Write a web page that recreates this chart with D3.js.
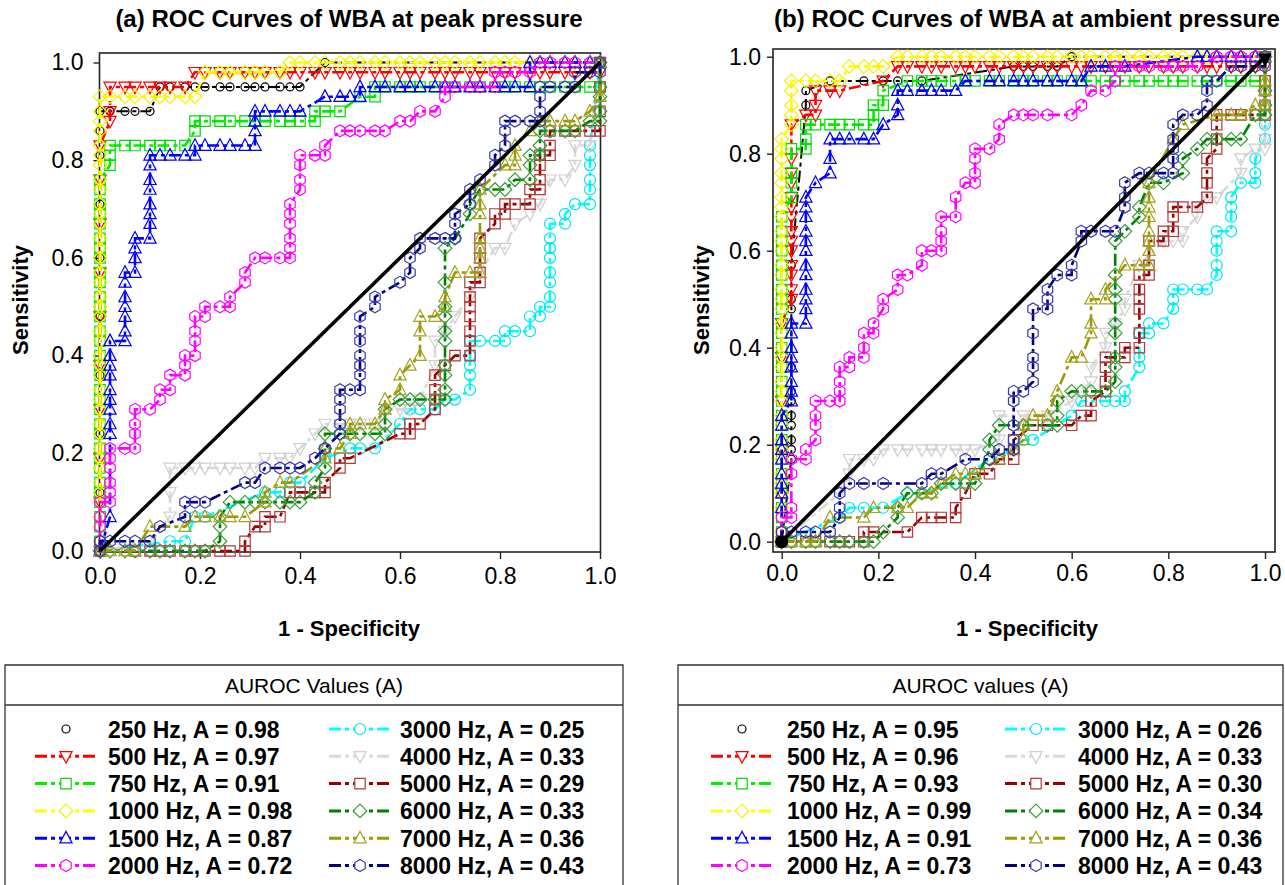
<!DOCTYPE html>
<html>
<head>
<meta charset="utf-8">
<script src="https://cdn.jsdelivr.net/npm/d3@7"></script>
<style>
  body { margin: 0; background: #fff; }
  svg text { font-family: Arial, "Liberation Sans", sans-serif; fill: #000; }
</style>
</head>
<body>
<svg id="chart" width="1285" height="885"></svg>
<script>
// ---------- labels, ticks, AUROC values ----------
const frequencies = ["250 Hz", "500 Hz", "750 Hz", "1000 Hz", "1500 Hz", "2000 Hz",
                     "3000 Hz", "4000 Hz", "5000 Hz", "6000 Hz", "7000 Hz", "8000 Hz"];
const aurocPeak    = [0.98, 0.97, 0.91, 0.98, 0.87, 0.72, 0.25, 0.33, 0.29, 0.33, 0.36, 0.43];
const aurocAmbient = [0.95, 0.96, 0.93, 0.99, 0.91, 0.73, 0.26, 0.33, 0.30, 0.34, 0.36, 0.43];
const xTicks = [0, 0.2, 0.4, 0.6, 0.8, 1.0];
const yTicks = [0, 0.2, 0.4, 0.6, 0.8, 1.0];
const chanceLine = [[0, 0], [1, 1]];

// ---------- ROC points [1 - specificity, sensitivity], peak pressure ----------
const peak250 = [[0,0],[0,.12],[0,.24],[0,.36],[0,.48],[0,.6],[0,.71],[0,.81],[0,.86],[0,.9],[.02,.9],[.05,.9],[.07,.9],[.1,.9],[.12,.95],[.14,.95],[.17,.95],[.19,.95],[.21,.95],[.24,.95],[.26,.95],[.29,.95],[.31,.95],[.33,.95],[.36,.95],[.38,.95],[.4,.95],[.45,1],[1,1]];
const peak500 = [[0,0],[0,.1],[0,.19],[0,.29],[0,.38],[0,.48],[0,.57],[0,.67],[0,.76],[0,.83],[.02,.88],[.02,.9],[.02,.95],[.05,.95],[.07,.95],[.1,.95],[.12,.95],[.14,.95],[.17,.95],[.19,.98],[.21,.98],[.24,.98],[.26,.98],[.29,.98],[.31,.98],[.33,.98],[.36,.98],[.38,.98],[.4,.98],[.43,.98],[.45,.98],[.48,.98],[.5,.98],[.52,.98],[.55,.98],[.57,.98],[.6,.98],[.62,.98],[.64,.98],[.67,.98],[.69,.98],[.71,.98],[.74,.98],[.76,.98],[.79,.98],[.81,.98],[.83,.98],[.86,.98],[.88,.98],[.9,.98],[.93,.98],[.95,.98],[.98,.98],[1,.98],[1,1]];
const peak750 = [[0,0],[0,.02],[0,.05],[0,.07],[0,.1],[0,.12],[0,.14],[0,.17],[0,.19],[0,.21],[0,.24],[0,.26],[0,.29],[0,.31],[0,.33],[0,.36],[0,.38],[0,.4],[0,.43],[0,.45],[0,.48],[0,.5],[0,.52],[0,.55],[0,.57],[0,.6],[0,.62],[0,.64],[0,.67],[0,.69],[0,.71],[0,.74],[0,.76],[.02,.79],[.02,.81],[.02,.83],[.05,.83],[.07,.83],[.1,.83],[.12,.83],[.14,.83],[.17,.83],[.19,.86],[.19,.88],[.21,.88],[.24,.88],[.26,.88],[.29,.88],[.31,.88],[.33,.88],[.36,.88],[.38,.88],[.4,.88],[.43,.88],[.43,.9],[.45,.9],[.48,.9],[.52,.93],[.55,.93],[.55,.95],[.57,.95],[.6,.95],[.62,.95],[.64,.95],[.67,.95],[.69,.95],[.71,.95],[.74,.95],[.76,.95],[.79,.95],[.81,.95],[.83,.95],[.86,.95],[.88,.95],[.9,.95],[.93,.95],[.95,.95],[.98,.95],[1,.95],[1,1]];
const peak1000 = [[0,0],[0,.02],[0,.05],[0,.07],[0,.1],[0,.12],[0,.14],[0,.17],[0,.19],[0,.21],[0,.24],[0,.26],[0,.29],[0,.31],[0,.33],[0,.36],[0,.38],[0,.4],[0,.43],[0,.45],[0,.48],[0,.5],[0,.52],[0,.55],[0,.57],[0,.6],[0,.62],[0,.64],[0,.67],[0,.69],[0,.71],[0,.74],[0,.76],[0,.79],[0,.81],[0,.83],[0,.86],[0,.88],[0,.9],[0,.93],[.02,.93],[.05,.93],[.07,.93],[.1,.93],[.12,.93],[.14,.93],[.17,.93],[.19,.93],[.21,.98],[.24,.98],[.26,.98],[.29,.98],[.31,.98],[.33,.98],[.36,.98],[.38,1],[.4,1],[.43,1],[.45,1],[.48,1],[.5,1],[.52,1],[.55,1],[.57,1],[.6,1],[.62,1],[.64,1],[.67,1],[.69,1],[.71,1],[.74,1],[.76,1],[.79,1],[.81,1],[.83,1],[.86,1],[.88,1],[.9,1],[.93,1],[.95,1],[.98,1],[1,1]];
const peak1500 = [[0,0],[.02,.07],[.02,.24],[.02,.26],[.02,.29],[.02,.31],[.02,.33],[.02,.36],[.02,.38],[.02,.4],[.02,.43],[.05,.43],[.05,.45],[.05,.48],[.05,.5],[.05,.52],[.05,.55],[.05,.57],[.07,.57],[.07,.6],[.07,.62],[.07,.64],[.1,.64],[.1,.67],[.1,.69],[.1,.71],[.1,.74],[.1,.76],[.1,.79],[.1,.81],[.12,.81],[.14,.81],[.17,.81],[.19,.81],[.19,.83],[.21,.83],[.24,.83],[.26,.83],[.29,.83],[.31,.83],[.31,.86],[.31,.88],[.31,.9],[.33,.9],[.36,.9],[.38,.9],[.4,.9],[.45,.93],[.48,.93],[.5,.93],[.52,.93],[.52,.95],[.55,.95],[.57,.95],[.6,.95],[.62,.95],[.64,.95],[.67,.95],[.69,.95],[.71,.95],[.74,.95],[.76,.95],[.79,.95],[.81,.95],[.83,.95],[.86,.95],[.86,1],[.88,1],[.9,1],[.93,1],[.95,1],[.98,1],[1,1]];
const peak2000 = [[0,0],[0,.02],[0,.05],[0,.07],[0,.1],[.02,.1],[.02,.12],[.02,.14],[.02,.17],[.02,.19],[.02,.21],[.05,.21],[.07,.21],[.07,.24],[.07,.26],[.07,.29],[.1,.29],[.12,.31],[.12,.33],[.14,.33],[.14,.36],[.17,.36],[.17,.38],[.17,.4],[.19,.4],[.19,.43],[.19,.45],[.19,.48],[.21,.48],[.21,.5],[.24,.5],[.26,.5],[.26,.52],[.29,.55],[.29,.57],[.31,.6],[.33,.6],[.36,.6],[.38,.6],[.38,.62],[.38,.64],[.38,.67],[.38,.69],[.38,.71],[.4,.74],[.4,.76],[.4,.79],[.4,.81],[.43,.81],[.45,.81],[.45,.83],[.48,.86],[.5,.86],[.52,.86],[.55,.86],[.57,.86],[.6,.88],[.62,.88],[.64,.9],[.67,.9],[.69,.93],[.69,.95],[.71,.95],[.74,.95],[.76,.95],[.79,.95],[.79,.98],[.81,.98],[.83,.98],[.86,.98],[.88,1],[.9,1],[.93,1],[.95,1],[.98,1],[1,1]];
const peak3000 = [[0,0],[.14,.02],[.17,.02],[.19,.07],[.21,.07],[.33,.12],[.36,.12],[.38,.14],[.4,.14],[.45,.19],[.5,.21],[.52,.21],[.55,.21],[.6,.26],[.62,.29],[.64,.29],[.67,.29],[.69,.31],[.71,.31],[.74,.33],[.74,.36],[.74,.38],[.74,.4],[.74,.43],[.76,.43],[.79,.43],[.81,.43],[.81,.45],[.83,.45],[.86,.45],[.86,.48],[.88,.48],[.88,.5],[.9,.5],[.9,.52],[.9,.55],[.9,.57],[.9,.6],[.9,.62],[.9,.64],[.9,.67],[.93,.67],[.93,.69],[.95,.71],[.98,.71],[.98,.74],[.98,.76],[.98,.79],[.98,.81],[.98,.83],[1,1]];
const peak4000 = [[0,0],[.1,.02],[.14,.07],[.14,.12],[.14,.17],[.17,.17],[.19,.17],[.21,.17],[.24,.17],[.26,.17],[.29,.17],[.31,.17],[.33,.19],[.36,.19],[.38,.19],[.4,.21],[.43,.24],[.45,.26],[.48,.26],[.5,.26],[.52,.26],[.55,.26],[.57,.29],[.6,.29],[.62,.29],[.64,.31],[.67,.38],[.67,.43],[.69,.45],[.71,.48],[.74,.52],[.76,.57],[.79,.62],[.81,.62],[.83,.67],[.86,.69],[.88,.71],[.9,.76],[.93,.76],[.95,.79],[.95,.83],[.98,.83],[1,1]];
const peak5000 = [[0,0],[.07,0],[.1,0],[.12,0],[.14,0],[.17,0],[.19,0],[.21,0],[.24,0],[.26,0],[.29,0],[.29,.02],[.31,.05],[.33,.05],[.33,.07],[.36,.07],[.38,.12],[.4,.12],[.43,.12],[.45,.12],[.45,.14],[.48,.17],[.48,.19],[.5,.19],[.6,.24],[.62,.24],[.62,.26],[.64,.26],[.67,.29],[.67,.31],[.67,.33],[.67,.36],[.69,.38],[.71,.4],[.74,.4],[.74,.43],[.74,.45],[.74,.48],[.74,.5],[.74,.52],[.74,.55],[.76,.55],[.76,.57],[.76,.6],[.76,.62],[.76,.64],[.79,.67],[.79,.69],[.81,.69],[.81,.71],[.83,.71],[.86,.71],[.86,.74],[.88,.74],[.88,.76],[.88,.79],[.88,.81],[.9,.81],[.9,.83],[.9,.86],[.93,.86],[.95,.86],[.98,.86],[1,.86],[1,.9],[1,.95],[1,1]];
const peak6000 = [[0,0],[.02,0],[.05,0],[.07,0],[.1,0],[.12,0],[.14,0],[.17,0],[.19,0],[.21,0],[.24,.02],[.24,.05],[.24,.07],[.26,.1],[.29,.1],[.31,.1],[.33,.1],[.36,.1],[.38,.1],[.4,.1],[.43,.12],[.43,.14],[.45,.17],[.45,.21],[.45,.24],[.48,.24],[.5,.24],[.52,.24],[.55,.24],[.57,.24],[.57,.26],[.57,.29],[.6,.31],[.62,.31],[.64,.31],[.67,.31],[.69,.31],[.69,.33],[.69,.36],[.69,.38],[.69,.43],[.69,.45],[.69,.48],[.69,.5],[.69,.55],[.69,.62],[.71,.64],[.74,.69],[.74,.71],[.76,.74],[.79,.74],[.81,.74],[.83,.76],[.86,.76],[.86,.79],[.86,.81],[.88,.81],[.88,.83],[.88,.86],[.9,.86],[.93,.86],[.95,.86],[.98,.88],[1,.88],[1,.9],[1,.93],[1,.95],[1,1]];
const peak7000 = [[0,0],[.02,0],[.05,0],[.07,0],[.1,.05],[.17,.05],[.19,.07],[.21,.07],[.24,.07],[.26,.07],[.29,.07],[.33,.1],[.33,.12],[.36,.14],[.38,.14],[.45,.19],[.45,.21],[.48,.21],[.5,.24],[.5,.26],[.52,.26],[.55,.26],[.57,.29],[.57,.31],[.6,.33],[.6,.36],[.62,.38],[.64,.4],[.64,.45],[.64,.48],[.67,.48],[.69,.5],[.69,.52],[.71,.57],[.74,.57],[.76,.57],[.76,.6],[.76,.62],[.76,.64],[.76,.69],[.76,.71],[.76,.74],[.81,.79],[.83,.79],[.83,.81],[.83,.83],[.86,.86],[.88,.88],[.9,.88],[.93,.88],[.95,.88],[.98,.9],[1,.93],[1,1]];
const peak8000 = [[0,0],[0,.02],[.02,.02],[.05,.02],[.07,.02],[.1,.02],[.12,.05],[.17,.07],[.17,.1],[.19,.1],[.21,.1],[.29,.14],[.31,.14],[.33,.17],[.36,.17],[.38,.17],[.4,.17],[.43,.19],[.45,.21],[.48,.24],[.48,.26],[.48,.29],[.48,.31],[.48,.33],[.5,.33],[.52,.33],[.52,.36],[.52,.38],[.52,.4],[.52,.43],[.52,.45],[.52,.48],[.55,.5],[.55,.52],[.6,.55],[.62,.57],[.62,.6],[.64,.62],[.64,.64],[.67,.64],[.69,.64],[.71,.64],[.71,.67],[.71,.69],[.74,.71],[.74,.74],[.76,.76],[.79,.79],[.79,.81],[.81,.83],[.81,.86],[.81,.88],[.83,.88],[.86,.88],[.88,.88],[.88,.9],[.88,.93],[.88,.95],[.9,.95],[.93,.95],[.95,.95],[.95,.98],[.98,.98],[1,.98],[1,1]];

// ---------- ROC points [1 - specificity, sensitivity], ambient pressure ----------
const amb250 = [[0,0],[.02,.17],[.02,.19],[.02,.21],[.02,.24],[.02,.26],[.02,.29],[.02,.31],[.02,.36],[.02,.48],[.02,.5],[.02,.57],[.05,.9],[.05,.93],[.1,.95],[.17,.95],[.21,.95],[.24,.95],[.29,.95],[.48,.98],[.5,.98],[.52,.98],[.55,.98],[.57,.98],[.6,1],[1,1]];
const amb500 = [[0,0],[0,.1],[0,.19],[0,.29],[0,.38],[0,.45],[.02,.5],[.02,.52],[.02,.55],[.02,.57],[.02,.6],[.02,.62],[.02,.64],[.02,.67],[.02,.69],[.02,.71],[.02,.74],[.02,.76],[.02,.79],[.02,.86],[.05,.88],[.07,.88],[.07,.9],[.07,.93],[.1,.93],[.12,.93],[.21,.95],[.24,.98],[.26,.98],[.29,.98],[.31,.98],[.33,.98],[.36,.98],[.38,.98],[.4,.98],[.43,.98],[.45,.98],[.48,.98],[.5,.98],[.52,.98],[.55,.98],[.57,.98],[.6,.98],[.62,.98],[.64,.98],[.67,.98],[.69,.98],[.71,.98],[.74,.98],[.76,.98],[.79,.98],[.81,.98],[.83,.98],[.86,.98],[.88,.98],[.9,.98],[.93,.98],[.95,.98],[.98,.98],[1,.98],[1,1]];
const amb750 = [[0,0],[0,.02],[0,.05],[0,.07],[0,.1],[0,.12],[0,.14],[0,.17],[0,.19],[0,.21],[0,.24],[0,.26],[0,.29],[0,.31],[0,.33],[0,.36],[0,.38],[0,.4],[0,.43],[0,.45],[0,.48],[0,.5],[0,.52],[0,.55],[0,.57],[0,.6],[0,.62],[0,.64],[0,.67],[.02,.71],[.02,.74],[.02,.76],[.02,.81],[.05,.81],[.05,.83],[.05,.86],[.07,.86],[.1,.86],[.12,.86],[.14,.86],[.17,.86],[.19,.86],[.19,.88],[.19,.9],[.21,.9],[.21,.93],[.26,.95],[.29,.95],[.31,.95],[.33,.95],[.36,.95],[.38,.95],[.4,.95],[.43,.95],[.45,.95],[.48,.95],[.5,.95],[.52,.95],[.55,.95],[.57,.95],[.6,.95],[.62,.95],[.64,.95],[.67,.95],[.69,.95],[.71,.95],[.74,.95],[.76,.95],[.79,.95],[.81,.95],[.83,.95],[.86,.95],[.88,.95],[.9,.95],[.93,.95],[.95,.95],[.98,.95],[1,.95],[1,1]];
const amb1000 = [[0,0],[0,.02],[0,.05],[0,.07],[0,.1],[0,.12],[0,.14],[0,.17],[0,.19],[0,.21],[0,.24],[0,.26],[0,.29],[0,.31],[0,.33],[0,.36],[0,.38],[0,.4],[0,.43],[0,.45],[0,.48],[0,.5],[0,.52],[0,.55],[0,.57],[0,.6],[0,.62],[0,.64],[0,.67],[0,.69],[0,.71],[0,.74],[0,.76],[0,.79],[0,.81],[0,.83],[.02,.86],[.02,.88],[.02,.9],[.02,.93],[.02,.95],[.05,.95],[.07,.95],[.1,.95],[.12,.95],[.14,.98],[.17,.98],[.19,.98],[.21,.98],[.24,1],[.26,1],[.29,1],[.31,1],[.33,1],[.36,1],[.38,1],[.4,1],[.43,1],[.45,1],[.48,1],[.5,1],[.52,1],[.55,1],[.57,1],[.6,1],[.62,1],[.64,1],[.67,1],[.69,1],[.71,1],[.74,1],[.76,1],[.79,1],[.81,1],[.83,1],[.86,1],[.88,1],[.9,1],[.93,1],[.95,1],[.98,1],[1,1]];
const amb1500 = [[0,0],[0,.07],[0,.1],[0,.12],[0,.14],[0,.17],[0,.19],[0,.21],[0,.24],[0,.26],[.02,.29],[.02,.31],[.02,.33],[.02,.36],[.02,.38],[.02,.4],[.02,.43],[.02,.45],[.05,.45],[.05,.48],[.05,.5],[.05,.52],[.05,.55],[.05,.57],[.05,.6],[.05,.62],[.05,.64],[.05,.67],[.05,.69],[.05,.71],[.07,.74],[.1,.76],[.1,.79],[.1,.83],[.12,.83],[.14,.83],[.17,.83],[.19,.83],[.21,.86],[.24,.88],[.24,.9],[.24,.93],[.26,.93],[.29,.93],[.31,.93],[.33,.93],[.36,.93],[.38,.95],[.43,.95],[.45,.95],[.48,.95],[.5,.95],[.52,.95],[.55,.95],[.57,.95],[.6,.95],[.62,.95],[.64,.98],[.67,.98],[.71,.98],[.86,1],[.88,1],[.9,1],[.93,1],[.95,1],[.98,1],[1,1]];
const amb2000 = [[0,0],[0,.02],[0,.05],[.02,.05],[.02,.07],[.02,.14],[.02,.17],[.05,.17],[.05,.19],[.07,.21],[.07,.24],[.07,.26],[.07,.29],[.1,.29],[.12,.29],[.12,.31],[.12,.33],[.12,.36],[.14,.36],[.14,.38],[.17,.38],[.17,.4],[.17,.43],[.19,.43],[.19,.45],[.21,.48],[.21,.5],[.24,.52],[.24,.55],[.26,.55],[.29,.57],[.29,.6],[.31,.6],[.33,.6],[.33,.62],[.33,.64],[.33,.67],[.36,.67],[.36,.71],[.38,.74],[.4,.74],[.4,.76],[.4,.79],[.4,.81],[.43,.81],[.45,.83],[.45,.86],[.48,.88],[.5,.88],[.52,.88],[.55,.88],[.6,.88],[.62,.9],[.64,.93],[.67,.93],[.69,.95],[.69,.98],[.71,.98],[.74,.98],[.76,.98],[.79,.98],[.81,.98],[.83,.98],[.86,.98],[.9,1],[.93,1],[.95,1],[.98,1],[1,1]];
const amb3000 = [[0,0],[.12,.05],[.14,.07],[.17,.07],[.21,.07],[.26,.1],[.29,.1],[.36,.12],[.43,.17],[.48,.19],[.5,.21],[.52,.21],[.6,.26],[.62,.29],[.67,.29],[.69,.29],[.71,.29],[.71,.31],[.74,.36],[.74,.38],[.74,.43],[.76,.43],[.76,.45],[.79,.45],[.81,.48],[.81,.5],[.81,.52],[.83,.52],[.86,.52],[.88,.52],[.9,.55],[.9,.57],[.9,.6],[.9,.62],[.9,.64],[.93,.64],[.93,.67],[.93,.69],[.93,.71],[.95,.74],[.98,.74],[.98,.76],[.98,.79],[1,.83],[1,.86],[1,1]];
const amb4000 = [[0,0],[.12,.1],[.14,.14],[.14,.17],[.17,.17],[.19,.17],[.21,.19],[.24,.19],[.26,.19],[.29,.19],[.31,.19],[.33,.19],[.36,.19],[.38,.19],[.4,.19],[.45,.21],[.45,.26],[.5,.26],[.55,.26],[.6,.29],[.64,.33],[.64,.36],[.67,.4],[.67,.43],[.69,.45],[.71,.48],[.71,.5],[.74,.57],[.79,.62],[.81,.62],[.83,.62],[.83,.64],[.86,.67],[.86,.69],[.88,.71],[.9,.71],[.95,.76],[.95,.79],[.98,.81],[1,.81],[1,.83],[1,.86],[1,1]];
const amb5000 = [[0,0],[.02,0],[.05,0],[.07,0],[.1,0],[.12,0],[.14,0],[.17,0],[.17,.02],[.19,.02],[.26,.02],[.29,.05],[.31,.05],[.33,.05],[.36,.05],[.36,.07],[.38,.1],[.4,.14],[.43,.14],[.45,.17],[.48,.17],[.48,.19],[.48,.21],[.52,.24],[.55,.24],[.6,.24],[.62,.26],[.64,.26],[.64,.29],[.67,.31],[.67,.33],[.67,.36],[.67,.38],[.71,.38],[.71,.4],[.74,.4],[.74,.43],[.74,.48],[.74,.5],[.74,.52],[.74,.55],[.76,.55],[.76,.57],[.76,.62],[.79,.62],[.79,.64],[.81,.64],[.81,.67],[.81,.69],[.83,.69],[.86,.69],[.88,.71],[.88,.74],[.88,.76],[.88,.79],[.9,.81],[.9,.83],[.9,.86],[.9,.88],[.93,.88],[.95,.88],[.98,.88],[1,.88],[1,.9],[1,.93],[1,.95],[1,1]];
const amb6000 = [[0,0],[.02,0],[.05,0],[.07,0],[.1,0],[.12,0],[.14,0],[.17,0],[.19,0],[.21,.02],[.24,.05],[.24,.07],[.26,.1],[.29,.1],[.31,.1],[.33,.12],[.36,.12],[.38,.12],[.4,.12],[.43,.19],[.43,.21],[.45,.24],[.5,.24],[.55,.24],[.57,.24],[.57,.26],[.57,.29],[.6,.31],[.62,.31],[.64,.31],[.67,.31],[.69,.33],[.69,.36],[.69,.38],[.69,.43],[.69,.45],[.69,.5],[.69,.52],[.69,.55],[.69,.62],[.71,.64],[.74,.67],[.74,.69],[.76,.74],[.79,.74],[.83,.76],[.83,.79],[.86,.81],[.88,.83],[.9,.83],[.93,.83],[.95,.83],[.98,.88],[1,.88],[1,.9],[1,.93],[1,1]];
const amb7000 = [[0,0],[.02,0],[.05,0],[.07,0],[.1,.05],[.17,.05],[.19,.07],[.24,.07],[.26,.07],[.29,.1],[.31,.1],[.33,.12],[.36,.14],[.38,.14],[.4,.14],[.45,.17],[.48,.19],[.5,.21],[.5,.24],[.52,.26],[.55,.26],[.57,.31],[.6,.38],[.62,.38],[.64,.43],[.64,.45],[.64,.5],[.67,.5],[.67,.52],[.71,.57],[.74,.57],[.76,.57],[.76,.6],[.76,.62],[.76,.64],[.76,.67],[.76,.69],[.76,.71],[.76,.74],[.81,.83],[.83,.86],[.9,.88],[.93,.88],[.95,.88],[.98,.9],[1,.9],[1,.93],[1,.95],[1,1]];
const amb8000 = [[0,0],[0,.02],[.02,.02],[.05,.02],[.07,.02],[.1,.02],[.12,.05],[.12,.07],[.12,.1],[.14,.12],[.17,.12],[.21,.12],[.29,.12],[.31,.14],[.33,.14],[.38,.17],[.43,.17],[.45,.19],[.48,.19],[.48,.21],[.48,.24],[.48,.29],[.48,.31],[.5,.31],[.52,.33],[.52,.36],[.52,.38],[.52,.43],[.52,.48],[.55,.48],[.55,.5],[.55,.52],[.57,.55],[.6,.55],[.6,.57],[.62,.62],[.62,.64],[.64,.64],[.67,.64],[.69,.64],[.71,.69],[.71,.71],[.71,.74],[.74,.76],[.76,.76],[.79,.76],[.81,.76],[.81,.79],[.81,.81],[.81,.83],[.81,.86],[.83,.88],[.86,.88],[.88,.9],[.88,.93],[.88,.95],[.9,.95],[.93,.98],[.95,.98],[.98,.98],[1,.98],[1,1]];

const peakSeries    = [peak250, peak500, peak750, peak1000, peak1500, peak2000, peak3000, peak4000, peak5000, peak6000, peak7000, peak8000];
const ambientSeries = [amb250, amb500, amb750, amb1000, amb1500, amb2000, amb3000, amb4000, amb5000, amb6000, amb7000, amb8000];

// ---------- styling per frequency ----------
const seriesStyle = [
  { line: "#000000", mark: "#000000", shape: "smallCircle", legendLine: false },
  { line: "#ff0000", mark: "#ff0000", shape: "triDown" },
  { line: "#00ee00", mark: "#00dd00", shape: "square" },
  { line: "#ffff00", mark: "#f2f200", shape: "diamond" },
  { line: "#0000ff", mark: "#0000ff", shape: "triUp" },
  { line: "#ff00ff", mark: "#ff00ff", shape: "hexagon" },
  { line: "#00ffff", mark: "#00e5f0", shape: "circle" },
  { line: "#dadada", mark: "#cfcfcf", shape: "triDown" },
  { line: "#990000", mark: "#b33a3a", shape: "square" },
  { line: "#008000", mark: "#3a9e3a", shape: "diamond" },
  { line: "#999900", mark: "#a3a320", shape: "triUp" },
  { line: "#000080", mark: "#3a3ab0", shape: "hexagon" }
];
const dashPattern = "12,4,4,4";

// marker outline drawn around a centre point
function markerPath(shape, cx, cy) {
  const p = d3.path();
  if (shape === "circle" || shape === "smallCircle") {
    const r = shape === "circle" ? 5.5 : 4;
    p.moveTo(cx + r, cy);
    p.arc(cx, cy, r, 0, 2 * Math.PI);
  } else if (shape === "square") {
    const h = 5.2;
    p.rect(cx - h, cy - h, 2 * h, 2 * h);
  } else if (shape === "diamond") {
    const h = 6.8;
    p.moveTo(cx, cy - h); p.lineTo(cx + h, cy); p.lineTo(cx, cy + h); p.lineTo(cx - h, cy); p.closePath();
  } else if (shape === "triUp" || shape === "triDown") {
    const s = shape === "triUp" ? 1 : -1, h = 6.8;
    p.moveTo(cx, cy - s * h);
    p.lineTo(cx + h * 0.9, cy + s * h * 0.7);
    p.lineTo(cx - h * 0.9, cy + s * h * 0.7);
    p.closePath();
  } else if (shape === "hexagon") {
    const r = 6;
    for (let i = 0; i < 6; i++) {
      const a = -Math.PI / 2 + i * Math.PI / 3;
      const px = cx + r * Math.cos(a), py = cy + r * Math.sin(a);
      if (i === 0) p.moveTo(px, py); else p.lineTo(px, py);
    }
    p.closePath();
  }
  return p.toString();
}

const svg = d3.select("#chart");
const fmtTick = d3.format(".1f");
const fmtA = d3.format(".2f");

function drawPanel(cfg, series) {
  const g = svg.append("g");
  const x = d3.scaleLinear().domain([0, 1]).range([cfg.x0, cfg.x1]);
  const y = d3.scaleLinear().domain([0, 1]).range([cfg.y0, cfg.y1]);

  // frame
  g.append("rect")
    .attr("x", cfg.fx).attr("y", cfg.fy).attr("width", cfg.fw).attr("height", cfg.fh)
    .attr("fill", "none").attr("stroke", "#222").attr("stroke-width", 1.6);

  // axes
  const yAxis = g.append("g").attr("transform", `translate(${cfg.fx},0)`)
    .call(d3.axisLeft(y).tickValues(yTicks).tickFormat(fmtTick).tickSize(6).tickPadding(cfg.yPad));
  const xAxis = g.append("g").attr("transform", `translate(0,${cfg.fy + cfg.fh})`)
    .call(d3.axisBottom(x).tickValues(xTicks).tickFormat(fmtTick).tickSize(7).tickPadding(cfg.xPad));
  [yAxis, xAxis].forEach(a => {
    a.select(".domain").remove();
    a.selectAll("line").attr("stroke", "#222").attr("stroke-width", 1.4);
    a.selectAll("text").attr("font-size", 23).attr("font-family", "Arial, 'Liberation Sans', sans-serif").attr("fill", "#000");
  });

  // titles
  g.append("text").attr("x", cfg.titleX).attr("y", 27).attr("text-anchor", "middle")
    .attr("font-size", 24).attr("font-weight", "bold").text(cfg.title);
  g.append("text").attr("x", cfg.titleX).attr("y", 636).attr("text-anchor", "middle")
    .attr("font-size", 22).attr("font-weight", "bold").text("1 - Specificity");
  g.append("text").attr("transform", `translate(${cfg.ylabX},${cfg.ylabY}) rotate(-90)`)
    .attr("text-anchor", "middle").attr("font-size", 22).attr("font-weight", "bold").text("Sensitivity");

  // curves
  const line = d3.line().x(d => x(d[0])).y(d => y(d[1]));
  series.forEach((pts, i) => {
    const st = seriesStyle[i];
    const cg = g.append("g");
    cg.append("path").attr("d", line(pts)).attr("fill", "none")
      .attr("stroke", st.line).attr("stroke-width", i === 0 ? 2 : 2.6)
      .attr("stroke-dasharray", dashPattern);
    cg.selectAll("path.mk").data(pts).join("path").attr("class", "mk")
      .attr("d", d => markerPath(st.shape, x(d[0]), y(d[1])))
      .attr("fill", "none").attr("stroke", st.mark).attr("stroke-width", 1.2);
  });

  // chance diagonal
  g.append("path").attr("d", line(chanceLine)).attr("stroke", "#000")
    .attr("stroke-width", 3.5).attr("fill", "none");
  if (cfg.diagonalEnds) {
    g.append("circle").attr("cx", x(chanceLine[0][0])).attr("cy", y(chanceLine[0][1]))
      .attr("r", 6.5).attr("fill", "#000");
    g.append("path").attr("d", markerPath("triDown", x(chanceLine[1][0]), y(chanceLine[1][1]) + 2))
      .attr("fill", "#000").attr("stroke", "#000");
  }
}

function drawLegend(cfg, values) {
  const g = svg.append("g");
  g.append("path")
    .attr("d", `M${cfg.left},885 V${cfg.top} H${cfg.right} V885 M${cfg.left},${cfg.top + 40} H${cfg.right}`)
    .attr("fill", "none").attr("stroke", "#333").attr("stroke-width", 1.3);
  g.append("text").attr("x", (cfg.left + cfg.right) / 2).attr("y", cfg.top + 28)
    .attr("text-anchor", "middle").attr("font-size", 21).text(cfg.header);

  frequencies.forEach((f, i) => {
    const col = Math.floor(i / 6), row = i % 6;
    const st = seriesStyle[i];
    const cy = cfg.rowY0 + row * cfg.rowStep;
    const sx = cfg.colX[col];
    if (st.legendLine !== false) {
      g.append("path").attr("d", `M${sx},${cy} H${sx + 62}`).attr("stroke", st.line)
        .attr("stroke-width", 3).attr("stroke-dasharray", dashPattern).attr("fill", "none");
    }
    g.append("path").attr("d", markerPath(st.shape, sx + 31, cy))
      .attr("fill", "#fff").attr("stroke", st.mark).attr("stroke-width", 1.2);
    g.append("text").attr("x", cfg.textX[col]).attr("y", cy + 8.5)
      .attr("font-size", 23).attr("font-weight", "bold")
      .text(`${f}, A = ${fmtA(values[i])}`);
  });
}

drawPanel({
  x0: 100, x1: 600, y0: 551, y1: 62.5,
  fx: 99.5, fy: 53, fw: 501, fh: 499,
  title: "(a) ROC Curves of WBA at peak pressure", titleX: 349,
  ylabX: 28, ylabY: 300, diagonalEnds: false, yPad: 10, xPad: 9
}, peakSeries);

drawPanel({
  x0: 781.7, x1: 1265, y0: 541.7, y1: 56.7,
  fx: 773, fy: 49, fw: 502, fh: 503,
  title: "(b) ROC Curves of WBA at ambient pressure", titleX: 1027,
  ylabX: 709, ylabY: 300, diagonalEnds: true, yPad: 6, xPad: 6
}, ambientSeries);

drawLegend({
  left: 5, right: 623, top: 665, header: "AUROC Values (A)",
  rowY0: 729, rowStep: 27.3, colX: [35, 329], textX: [108, 400]
}, aurocPeak);

drawLegend({
  left: 678, right: 1283, top: 665, header: "AUROC values (A)",
  rowY0: 729, rowStep: 27.3, colX: [711, 1005], textX: [787, 1078]
}, aurocAmbient);
</script>
</body>
</html>
